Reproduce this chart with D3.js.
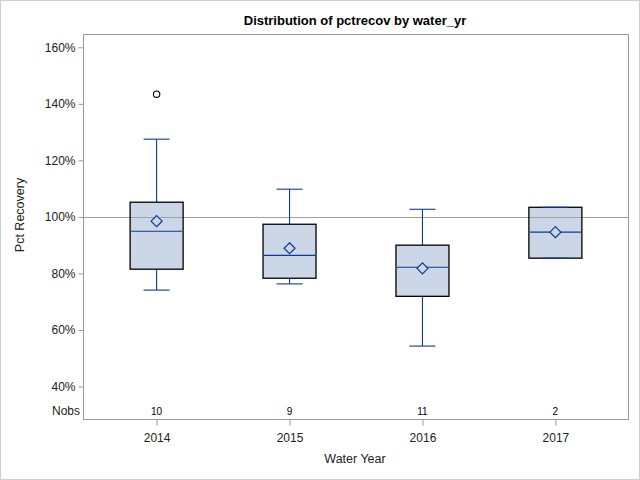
<!DOCTYPE html>
<html>
<head>
<meta charset="utf-8">
<script src="https://cdn.jsdelivr.net/npm/d3@7"></script>
<style>
  body { margin: 0; background: #fff; }
  svg { display: block; font-family: "Liberation Sans", Arial, sans-serif; }
</style>
</head>
<body>
<div id="chart"></div>
<script>
// values (percent)
const years   = ["2014", "2015", "2016", "2017"];
const q1      = [81.5, 78.3, 71.9, 85.4];
const median  = [94.9, 86.4, 82.2, 94.6];
const q3      = [105.2, 97.4, 90.0, 103.4];
const meanVal = [98.5, 88.9, 81.8, 94.6];
const whiskLo = [74.1, 76.3, 54.3, 85.4];
const whiskHi = [127.5, 109.8, 102.7, 103.4];
const outliers = [[143.4], [], [], []];
const nobs    = [10, 9, 11, 2];
const yTicks  = [40, 60, 80, 100, 120, 140, 160];

const width = 640, height = 480;
const frame = {left: 83.5, right: 628.5, top: 34.5, bottom: 419.5};
const blue = "#0b3a92", fill = "#cbd6e6", axisGray = "#999";

const svg = d3.select("#chart").append("svg")
  .attr("width", width)
  .attr("height", height);

// outer border
svg.append("rect")
  .attr("x", 0.5).attr("y", 0.5)
  .attr("width", width - 1).attr("height", height - 1)
  .attr("fill", "#fff").attr("stroke", "#cfcfcf");

const x = d3.scalePoint()
  .domain(years)
  .range([frame.left, frame.right])
  .padding(0.55);

const y = d3.scaleLinear()
  .domain([40, 160])
  .range([386.5, 47.3]);

const boxW = 53, capW = 26;

const data = years.map((yr, i) => ({
  yr, q1: q1[i], med: median[i], q3: q3[i], mean: meanVal[i],
  lo: whiskLo[i], hi: whiskHi[i], out: outliers[i], n: nobs[i]
}));

// title
svg.append("text")
  .attr("x", 355).attr("y", 25)
  .attr("text-anchor", "middle")
  .attr("font-size", 13).attr("font-weight", "bold")
  .text("Distribution of pctrecov by water_yr");

// y axis
const yAxis = svg.append("g")
  .attr("transform", `translate(${frame.left},0)`)
  .call(d3.axisLeft(y).tickValues(yTicks).tickSize(5).tickFormat(d => d + "%"));
yAxis.select(".domain").remove();
yAxis.selectAll(".tick line").attr("stroke", axisGray);
yAxis.selectAll(".tick text")
  .attr("font-size", 12).attr("fill", "#222")
  .attr("font-family", "Liberation Sans, Arial, sans-serif");

// x axis
const xAxis = svg.append("g")
  .attr("transform", `translate(0,${frame.bottom})`)
  .call(d3.axisBottom(x).tickSize(6).tickPadding(8));
xAxis.select(".domain").remove();
xAxis.selectAll(".tick line").attr("stroke", axisGray);
xAxis.selectAll(".tick text")
  .attr("font-size", 12).attr("fill", "#222")
  .attr("font-family", "Liberation Sans, Arial, sans-serif");

svg.append("text")
  .attr("transform", "translate(24,215) rotate(-90)")
  .attr("text-anchor", "middle")
  .attr("font-size", 12.5).attr("fill", "#222")
  .text("Pct Recovery");

svg.append("text")
  .attr("x", 355).attr("y", 463)
  .attr("text-anchor", "middle")
  .attr("font-size", 12.5).attr("fill", "#222")
  .text("Water Year");

// box fills
svg.append("g").selectAll("rect")
  .data(data)
  .join("rect")
  .attr("x", d => x(d.yr) - boxW / 2)
  .attr("y", d => y(d.q3))
  .attr("width", boxW)
  .attr("height", d => y(d.q1) - y(d.q3))
  .attr("fill", fill);

// reference line at 100%
svg.append("line")
  .attr("x1", frame.left).attr("x2", frame.right)
  .attr("y1", Math.round(y(100)) + 0.5).attr("y2", Math.round(y(100)) + 0.5)
  .attr("stroke", "#a0a0a0").attr("stroke-width", 1);

const marks = svg.append("g").attr("stroke", blue).attr("stroke-width", 1.1).attr("fill", "none");

// whiskers
marks.selectAll("line.wu")
  .data(data).join("line")
  .attr("class", "wu")
  .attr("x1", d => x(d.yr)).attr("x2", d => x(d.yr))
  .attr("y1", d => y(d.q3)).attr("y2", d => y(d.hi));
marks.selectAll("line.wl")
  .data(data).join("line")
  .attr("class", "wl")
  .attr("x1", d => x(d.yr)).attr("x2", d => x(d.yr))
  .attr("y1", d => y(d.q1)).attr("y2", d => y(d.lo));

// box outlines
marks.selectAll("rect.box")
  .data(data)
  .join("rect")
  .attr("class", "box")
  .attr("x", d => x(d.yr) - boxW / 2)
  .attr("y", d => y(d.q3))
  .attr("width", boxW)
  .attr("height", d => y(d.q1) - y(d.q3))
  .attr("stroke", "#000")
  .attr("stroke-width", 1.3);

// caps
marks.selectAll("line.ch")
  .data(data).join("line")
  .attr("class", "ch")
  .attr("x1", d => x(d.yr) - capW / 2).attr("x2", d => x(d.yr) + capW / 2)
  .attr("y1", d => y(d.hi)).attr("y2", d => y(d.hi));
marks.selectAll("line.cl")
  .data(data).join("line")
  .attr("class", "cl")
  .attr("x1", d => x(d.yr) - capW / 2).attr("x2", d => x(d.yr) + capW / 2)
  .attr("y1", d => y(d.lo)).attr("y2", d => y(d.lo));

// medians
marks.selectAll("line.med")
  .data(data).join("line")
  .attr("class", "med")
  .attr("x1", d => x(d.yr) - boxW / 2 + 1).attr("x2", d => x(d.yr) + boxW / 2 - 1)
  .attr("y1", d => y(d.med)).attr("y2", d => y(d.med));

// means (diamonds)
marks.selectAll("path.mean")
  .data(data).join("path")
  .attr("class", "mean")
  .attr("d", d => {
    const cx = x(d.yr), cy = y(d.mean), r = 5.5;
    return `M${cx},${cy - r}L${cx + r},${cy}L${cx},${cy + r}L${cx - r},${cy}Z`;
  })
  .attr("fill", fill)
  .attr("stroke-width", 1.2);

// outliers
svg.selectAll("circle.out")
  .data(data.flatMap(d => d.out.map(v => ({yr: d.yr, v}))))
  .join("circle")
  .attr("class", "out")
  .attr("cx", d => x(d.yr)).attr("cy", d => y(d.v))
  .attr("r", 3.2)
  .attr("fill", "none").attr("stroke", "#000").attr("stroke-width", 1.1);

// Nobs row
svg.append("text")
  .attr("x", 80).attr("y", 415)
  .attr("text-anchor", "end")
  .attr("font-size", 12).attr("fill", "#222")
  .text("Nobs");
svg.selectAll("text.nobs")
  .data(data).join("text")
  .attr("class", "nobs")
  .attr("x", d => x(d.yr)).attr("y", 415)
  .attr("text-anchor", "middle")
  .attr("font-size", 10).attr("fill", "#000")
  .text(d => d.n);

// frame
svg.append("rect")
  .attr("x", frame.left).attr("y", frame.top)
  .attr("width", frame.right - frame.left)
  .attr("height", frame.bottom - frame.top)
  .attr("fill", "none").attr("stroke", axisGray);
</script>
</body>
</html>
